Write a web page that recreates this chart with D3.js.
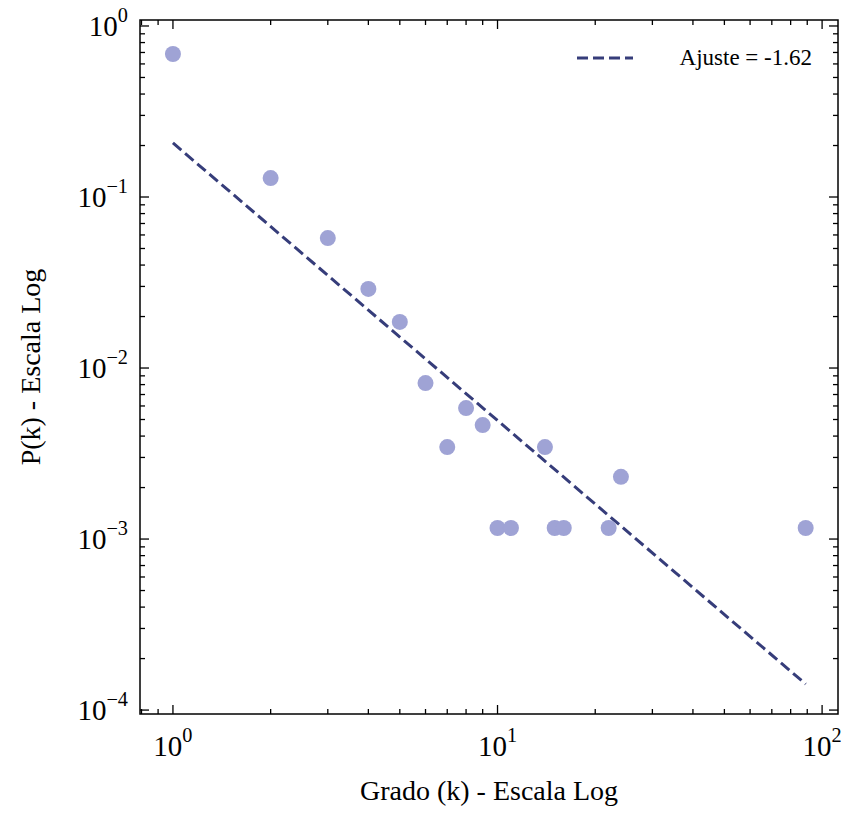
<!DOCTYPE html>
<html><head><meta charset="utf-8">
<script src="https://cdn.jsdelivr.net/npm/d3@7"></script>
<style>
body{margin:0;background:#fff}
text{font-family:"Liberation Serif","Times New Roman",serif;fill:#000}
</style></head><body>
<svg id="c" width="864" height="821"></svg>
<script>
const degrees = [1, 2, 3, 4, 5, 6, 7, 8, 9, 10, 11, 14, 15, 16, 22, 24, 89];
const probs = [0.686, 0.129, 0.0575, 0.029, 0.0186, 0.00817, 0.00345, 0.00583, 0.00464,
  0.00116, 0.00116, 0.00345, 0.00116, 0.00116, 0.00116, 0.00231, 0.00116];
const fitX = [1, 89];
const fitY = [0.207, 0.000142];
const fitLabel = "Ajuste = -1.62";

const M = {l: 140, r: 838, t: 20, b: 714};
const svg = d3.select("#c");
const x = d3.scaleLog().domain([Math.pow(10, -0.1015), Math.pow(10, 2.049)]).range([M.l, M.r]);
const y = d3.scaleLog().domain([Math.pow(10, -4.023), Math.pow(10, 0.035)]).range([M.b, M.t]);

function powLabel(sel, e) {
  sel.text("10");
  sel.append("tspan").attr("dy", "-0.7em").attr("font-size", "0.7em").text(String(e).replace("-", "\u2212"));
}

// major and minor ticks, inward on all four sides
const xMaj = [1, 10, 100], yMaj = [1e-4, 1e-3, 1e-2, 1e-1, 1];
const xMin = [], yMin = [];
for (const d of [0.1, 1, 10, 100]) for (let m = 2; m < 10; m++) { const v = d * m; if (v >= x.domain()[0] && v <= x.domain()[1]) xMin.push(v); }
for (const d of [1e-5, 1e-4, 1e-3, 1e-2, 1e-1, 1]) for (let m = 2; m < 10; m++) { const v = d * m; if (v >= y.domain()[0] && v <= y.domain()[1]) yMin.push(v); }

const g = svg.append("g").attr("stroke", "#000").attr("stroke-width", 1.3);
for (const [vals, len] of [[xMaj, 9], [xMin, 5]]) vals.forEach(v => {
  g.append("line").attr("x1", x(v)).attr("x2", x(v)).attr("y1", M.b).attr("y2", M.b - len);
  g.append("line").attr("x1", x(v)).attr("x2", x(v)).attr("y1", M.t).attr("y2", M.t + len);
});
for (const [vals, len] of [[yMaj, 9], [yMin, 5]]) vals.forEach(v => {
  g.append("line").attr("y1", y(v)).attr("y2", y(v)).attr("x1", M.l).attr("x2", M.l + len);
  g.append("line").attr("y1", y(v)).attr("y2", y(v)).attr("x1", M.r).attr("x2", M.r - len);
});

xMaj.forEach(v => svg.append("text").attr("x", x(v)).attr("y", M.b + 42).attr("text-anchor", "middle")
  .attr("font-size", 29).call(powLabel, Math.round(Math.log10(v))));
yMaj.forEach(v => svg.append("text").attr("x", M.l - 12).attr("y", y(v) + 10).attr("text-anchor", "end")
  .attr("font-size", 29).call(powLabel, Math.round(Math.log10(v))));

svg.append("line")
  .attr("x1", x(fitX[0])).attr("y1", y(fitY[0])).attr("x2", x(fitX[1])).attr("y2", y(fitY[1]))
  .attr("stroke", "#363d7a").attr("stroke-width", 3).attr("stroke-dasharray", "11,5");

svg.append("g").selectAll("circle").data(degrees).join("circle")
  .attr("cx", d => x(d)).attr("cy", (d, i) => y(probs[i])).attr("r", 8).attr("fill", "#9fa3d5");

svg.append("rect").attr("x", M.l).attr("y", M.t).attr("width", M.r - M.l).attr("height", M.b - M.t)
  .attr("fill", "none").attr("stroke", "#000").attr("stroke-width", 1.5);

svg.append("line").attr("x1", 577).attr("x2", 633).attr("y1", 58).attr("y2", 58)
  .attr("stroke", "#363d7a").attr("stroke-width", 3).attr("stroke-dasharray", "11,5");
svg.append("text").attr("x", 812).attr("y", 65).attr("text-anchor", "end").attr("font-size", 23).text(fitLabel);

svg.append("text").attr("x", (M.l + M.r) / 2).attr("y", 800).attr("text-anchor", "middle")
  .attr("font-size", 28).text("Grado (k) - Escala Log");
svg.append("text").attr("transform", `translate(40,${(M.t + M.b) / 2}) rotate(-90)`).attr("text-anchor", "middle")
  .attr("font-size", 28).text("P(k) - Escala Log");
</script></body></html>
